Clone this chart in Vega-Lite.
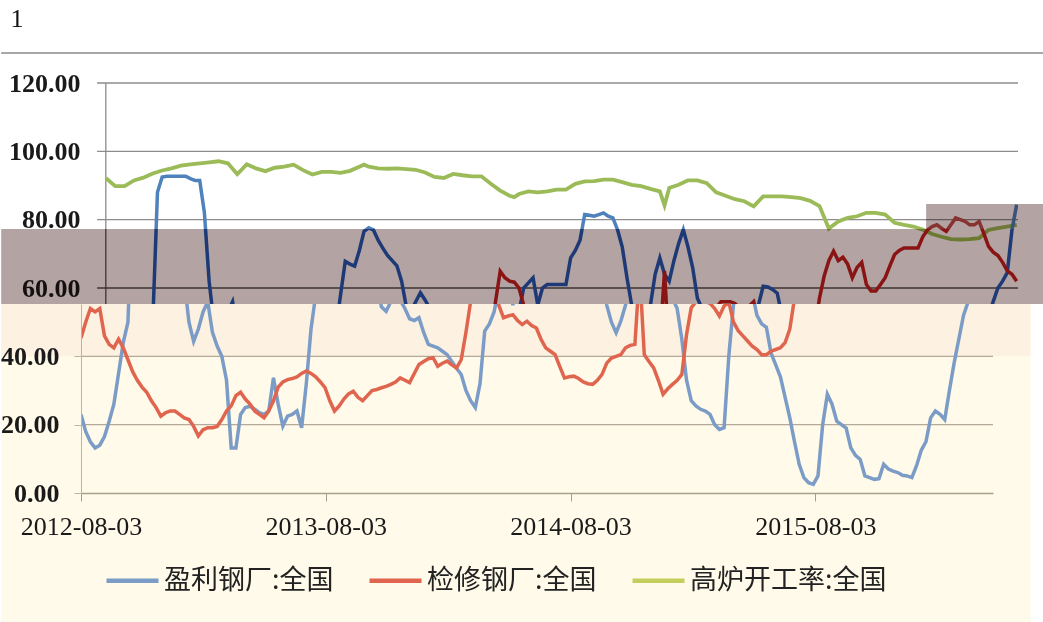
{
"$schema": "https://vega.github.io/schema/vega-lite/v6.json",
"padding": {"top": 6, "left": 0, "right": 0, "bottom": 0},
"background": "white",
"title": {"text": "1", "anchor": "start", "frame": "bounds", "font": "Liberation Serif", "fontSize": 26, "fontWeight": "normal", "color": "#111111", "dx": 10, "offset": 20},
"config": {"view": {"stroke": null}, "font": "Liberation Serif"},
"spacing": 0,
"bounds": "flush",
"resolve": {"scale": {"x": "independent", "y": "independent", "color": "independent"}, "legend": {"color": "independent"}},
"datasets": {
"profit": [{"d":"2012-08-03","v":23},{"d":"2012-08-10","v":18},{"d":"2012-08-17","v":15},{"d":"2012-08-24","v":13.2},{"d":"2012-08-31","v":14},{"d":"2012-09-07","v":16.5},{"d":"2012-09-14","v":21},{"d":"2012-09-21","v":26},{"d":"2012-09-28","v":35},{"d":"2012-10-05","v":44},{"d":"2012-10-12","v":50},{"d":"2012-10-19","v":88},{"d":"2012-10-26","v":92.5},{"d":"2012-11-02","v":92.7},{"d":"2012-11-09","v":92.7},{"d":"2012-11-16","v":92.7},{"d":"2012-11-23","v":92.7},{"d":"2012-11-30","v":92.7},{"d":"2012-12-07","v":92},{"d":"2012-12-14","v":91.5},{"d":"2012-12-21","v":91.5},{"d":"2012-12-28","v":82},{"d":"2013-01-04","v":62},{"d":"2013-01-11","v":50},{"d":"2013-01-18","v":44.4},{"d":"2013-01-25","v":48},{"d":"2013-02-01","v":53},{"d":"2013-02-08","v":56},{"d":"2013-02-15","v":47},{"d":"2013-02-22","v":43},{"d":"2013-03-01","v":40},{"d":"2013-03-08","v":33},{"d":"2013-03-15","v":13.2},{"d":"2013-03-22","v":13.2},{"d":"2013-03-29","v":23},{"d":"2013-04-05","v":25},{"d":"2013-04-12","v":25.4},{"d":"2013-04-19","v":24.5},{"d":"2013-04-26","v":23.5},{"d":"2013-05-03","v":23},{"d":"2013-05-10","v":24},{"d":"2013-05-17","v":33.7},{"d":"2013-05-24","v":26},{"d":"2013-05-31","v":19.6},{"d":"2013-06-07","v":22.5},{"d":"2013-06-14","v":23},{"d":"2013-06-21","v":24},{"d":"2013-06-28","v":19.1},{"d":"2013-07-05","v":32},{"d":"2013-07-12","v":48},{"d":"2013-07-19","v":58},{"d":"2013-07-26","v":67.8},{"d":"2013-08-02","v":67},{"d":"2013-08-09","v":66.4},{"d":"2013-08-16","v":71},{"d":"2013-08-23","v":76.6},{"d":"2013-08-30","v":77.6},{"d":"2013-09-06","v":77},{"d":"2013-09-13","v":74},{"d":"2013-09-20","v":71.7},{"d":"2013-09-27","v":69.5},{"d":"2013-10-04","v":68},{"d":"2013-10-11","v":66.5},{"d":"2013-10-18","v":62},{"d":"2013-10-25","v":54.5},{"d":"2013-11-01","v":53.2},{"d":"2013-11-08","v":56},{"d":"2013-11-15","v":58.6},{"d":"2013-11-22","v":56.5},{"d":"2013-11-29","v":54},{"d":"2013-12-06","v":51},{"d":"2013-12-13","v":50.5},{"d":"2013-12-20","v":51.3},{"d":"2013-12-27","v":47},{"d":"2014-01-03","v":43.5},{"d":"2014-01-10","v":43},{"d":"2014-01-17","v":42.5},{"d":"2014-01-24","v":41.5},{"d":"2014-01-31","v":40.5},{"d":"2014-02-07","v":38.5},{"d":"2014-02-14","v":36.5},{"d":"2014-02-21","v":34.7},{"d":"2014-02-28","v":30},{"d":"2014-03-07","v":27},{"d":"2014-03-14","v":25},{"d":"2014-03-21","v":32},{"d":"2014-03-28","v":47.4},{"d":"2014-04-04","v":49.5},{"d":"2014-04-11","v":53},{"d":"2014-04-18","v":60},{"d":"2014-04-25","v":61.5},{"d":"2014-05-02","v":63},{"d":"2014-05-09","v":55},{"d":"2014-05-16","v":60},{"d":"2014-05-23","v":61},{"d":"2014-05-30","v":61},{"d":"2014-06-06","v":61},{"d":"2014-06-13","v":61},{"d":"2014-06-20","v":61},{"d":"2014-06-27","v":68.8},{"d":"2014-07-04","v":71},{"d":"2014-07-11","v":74},{"d":"2014-07-18","v":81.5},{"d":"2014-07-25","v":81.3},{"d":"2014-08-01","v":81},{"d":"2014-08-08","v":81.5},{"d":"2014-08-15","v":82},{"d":"2014-08-22","v":81},{"d":"2014-08-29","v":80.5},{"d":"2014-09-05","v":77},{"d":"2014-09-12","v":72},{"d":"2014-09-19","v":63},{"d":"2014-09-26","v":55},{"d":"2014-10-03","v":50},{"d":"2014-10-10","v":46.9},{"d":"2014-10-17","v":50.3},{"d":"2014-10-24","v":55},{"d":"2014-10-31","v":64},{"d":"2014-11-07","v":68.8},{"d":"2014-11-14","v":64},{"d":"2014-11-21","v":62},{"d":"2014-11-28","v":68},{"d":"2014-12-05","v":73},{"d":"2014-12-12","v":77.1},{"d":"2014-12-19","v":72},{"d":"2014-12-26","v":65.9},{"d":"2015-01-02","v":57},{"d":"2015-01-09","v":54},{"d":"2015-01-16","v":45},{"d":"2015-01-23","v":33},{"d":"2015-01-30","v":27},{"d":"2015-02-06","v":25.5},{"d":"2015-02-13","v":24.5},{"d":"2015-02-20","v":24},{"d":"2015-02-27","v":23},{"d":"2015-03-06","v":20},{"d":"2015-03-13","v":18.6},{"d":"2015-03-20","v":19.1},{"d":"2015-03-27","v":40},{"d":"2015-04-03","v":55},{"d":"2015-04-10","v":60.5},{"d":"2015-04-17","v":60.3},{"d":"2015-04-24","v":59.6},{"d":"2015-05-01","v":58.5},{"d":"2015-05-08","v":52},{"d":"2015-05-15","v":49.5},{"d":"2015-05-22","v":48.5},{"d":"2015-05-29","v":41},{"d":"2015-06-05","v":37.5},{"d":"2015-06-12","v":34},{"d":"2015-06-19","v":28},{"d":"2015-06-26","v":22},{"d":"2015-07-03","v":15},{"d":"2015-07-10","v":8.4},{"d":"2015-07-17","v":4.5},{"d":"2015-07-24","v":3},{"d":"2015-07-31","v":2.5},{"d":"2015-08-07","v":5},{"d":"2015-08-14","v":20},{"d":"2015-08-21","v":28.9},{"d":"2015-08-28","v":26},{"d":"2015-09-04","v":21},{"d":"2015-09-11","v":20},{"d":"2015-09-18","v":19},{"d":"2015-09-25","v":13.2},{"d":"2015-10-02","v":11},{"d":"2015-10-09","v":9.8},{"d":"2015-10-16","v":5},{"d":"2015-10-23","v":4.5},{"d":"2015-10-30","v":4},{"d":"2015-11-06","v":4.2},{"d":"2015-11-13","v":8.4},{"d":"2015-11-20","v":7},{"d":"2015-11-27","v":6.4},{"d":"2015-12-04","v":6},{"d":"2015-12-11","v":5.2},{"d":"2015-12-18","v":5},{"d":"2015-12-25","v":4.5},{"d":"2016-01-01","v":8},{"d":"2016-01-08","v":12.5},{"d":"2016-01-15","v":15},{"d":"2016-01-22","v":22},{"d":"2016-01-29","v":24},{"d":"2016-02-05","v":23},{"d":"2016-02-12","v":21.5},{"d":"2016-02-19","v":30},{"d":"2016-02-26","v":38},{"d":"2016-03-04","v":45},{"d":"2016-03-11","v":52},{"d":"2016-03-18","v":56},{"d":"2016-03-25","v":60},{"d":"2016-04-01","v":62},{"d":"2016-04-08","v":64.5},{"d":"2016-04-15","v":77},{"d":"2016-04-22","v":84.4}],
"maint": [{"d":"2012-08-03","v":45.4},{"d":"2012-08-10","v":50},{"d":"2012-08-17","v":54},{"d":"2012-08-24","v":53},{"d":"2012-08-31","v":54},{"d":"2012-09-07","v":46},{"d":"2012-09-14","v":43.5},{"d":"2012-09-21","v":42.5},{"d":"2012-09-28","v":45},{"d":"2012-10-05","v":42.5},{"d":"2012-10-12","v":39},{"d":"2012-10-19","v":35.5},{"d":"2012-10-26","v":33},{"d":"2012-11-02","v":31},{"d":"2012-11-09","v":29.5},{"d":"2012-11-16","v":27},{"d":"2012-11-23","v":25},{"d":"2012-11-30","v":22.5},{"d":"2012-12-07","v":23.5},{"d":"2012-12-14","v":24},{"d":"2012-12-21","v":24},{"d":"2012-12-28","v":23},{"d":"2013-01-04","v":22},{"d":"2013-01-11","v":21.5},{"d":"2013-01-18","v":19.5},{"d":"2013-01-25","v":16.7},{"d":"2013-02-01","v":18.5},{"d":"2013-02-08","v":19.1},{"d":"2013-02-15","v":19.1},{"d":"2013-02-22","v":19.5},{"d":"2013-03-01","v":21.5},{"d":"2013-03-08","v":24},{"d":"2013-03-15","v":25.5},{"d":"2013-03-22","v":28.5},{"d":"2013-03-29","v":29.5},{"d":"2013-04-05","v":27.5},{"d":"2013-04-12","v":26},{"d":"2013-04-19","v":24},{"d":"2013-04-26","v":23},{"d":"2013-05-03","v":22},{"d":"2013-05-10","v":24},{"d":"2013-05-17","v":27},{"d":"2013-05-24","v":31},{"d":"2013-05-31","v":32.5},{"d":"2013-06-07","v":33.2},{"d":"2013-06-14","v":33.5},{"d":"2013-06-21","v":34},{"d":"2013-06-28","v":35},{"d":"2013-07-05","v":35.7},{"d":"2013-07-12","v":35},{"d":"2013-07-19","v":34},{"d":"2013-07-26","v":32.5},{"d":"2013-08-02","v":30.8},{"d":"2013-08-09","v":27},{"d":"2013-08-16","v":24},{"d":"2013-08-23","v":25.5},{"d":"2013-08-30","v":27.5},{"d":"2013-09-06","v":29},{"d":"2013-09-13","v":29.8},{"d":"2013-09-20","v":28},{"d":"2013-09-27","v":27},{"d":"2013-10-04","v":28.5},{"d":"2013-10-11","v":30},{"d":"2013-10-18","v":30.3},{"d":"2013-10-25","v":30.8},{"d":"2013-11-01","v":31.2},{"d":"2013-11-08","v":31.8},{"d":"2013-11-15","v":32.5},{"d":"2013-11-22","v":33.7},{"d":"2013-11-29","v":33},{"d":"2013-12-06","v":32.3},{"d":"2013-12-13","v":35},{"d":"2013-12-20","v":37.6},{"d":"2013-12-27","v":38.5},{"d":"2014-01-03","v":39.3},{"d":"2014-01-10","v":39.6},{"d":"2014-01-17","v":37.1},{"d":"2014-01-24","v":38},{"d":"2014-01-31","v":38.6},{"d":"2014-02-07","v":37.5},{"d":"2014-02-14","v":36.6},{"d":"2014-02-21","v":39},{"d":"2014-02-28","v":47},{"d":"2014-03-07","v":56},{"d":"2014-03-14","v":64.9},{"d":"2014-03-21","v":63},{"d":"2014-03-28","v":62},{"d":"2014-04-04","v":61.7},{"d":"2014-04-11","v":60},{"d":"2014-04-18","v":55},{"d":"2014-04-25","v":51.3},{"d":"2014-05-02","v":51.8},{"d":"2014-05-09","v":52.2},{"d":"2014-05-16","v":50.5},{"d":"2014-05-23","v":49.3},{"d":"2014-05-30","v":50.3},{"d":"2014-06-06","v":49},{"d":"2014-06-13","v":48.3},{"d":"2014-06-20","v":45},{"d":"2014-06-27","v":42.5},{"d":"2014-07-04","v":41.5},{"d":"2014-07-11","v":40.5},{"d":"2014-07-18","v":37},{"d":"2014-07-25","v":33.7},{"d":"2014-08-01","v":34},{"d":"2014-08-08","v":34.2},{"d":"2014-08-15","v":33.5},{"d":"2014-08-22","v":32.5},{"d":"2014-08-29","v":32},{"d":"2014-09-05","v":31.8},{"d":"2014-09-12","v":33},{"d":"2014-09-19","v":34.7},{"d":"2014-09-26","v":38},{"d":"2014-10-03","v":39.5},{"d":"2014-10-10","v":40},{"d":"2014-10-17","v":40.5},{"d":"2014-10-24","v":42.5},{"d":"2014-10-31","v":43.2},{"d":"2014-11-07","v":43.5},{"d":"2014-11-14","v":65},{"d":"2014-11-21","v":40.5},{"d":"2014-11-28","v":38.5},{"d":"2014-12-05","v":36.6},{"d":"2014-12-12","v":33},{"d":"2014-12-19","v":28.9},{"d":"2014-12-26","v":30.5},{"d":"2015-01-02","v":31.8},{"d":"2015-01-09","v":33},{"d":"2015-01-16","v":34.7},{"d":"2015-01-23","v":46.4},{"d":"2015-01-30","v":54.2},{"d":"2015-02-06","v":56},{"d":"2015-02-13","v":56},{"d":"2015-02-20","v":56},{"d":"2015-02-27","v":55.5},{"d":"2015-03-06","v":54},{"d":"2015-03-13","v":51.8},{"d":"2015-03-20","v":54.7},{"d":"2015-03-27","v":56},{"d":"2015-04-03","v":50},{"d":"2015-04-10","v":47.5},{"d":"2015-04-17","v":46},{"d":"2015-04-24","v":44.5},{"d":"2015-05-01","v":43},{"d":"2015-05-08","v":42},{"d":"2015-05-15","v":40.5},{"d":"2015-05-22","v":40.5},{"d":"2015-05-29","v":41.5},{"d":"2015-06-05","v":42},{"d":"2015-06-12","v":42.5},{"d":"2015-06-19","v":44},{"d":"2015-06-26","v":48},{"d":"2015-07-03","v":57},{"d":"2015-07-10","v":63.5},{"d":"2015-07-17","v":68},{"d":"2015-07-24","v":70.8},{"d":"2015-07-31","v":68},{"d":"2015-08-07","v":69},{"d":"2015-08-14","v":67},{"d":"2015-08-21","v":63},{"d":"2015-08-28","v":66},{"d":"2015-09-04","v":67.5},{"d":"2015-09-11","v":61},{"d":"2015-09-18","v":59.1},{"d":"2015-09-25","v":59.1},{"d":"2015-10-02","v":61},{"d":"2015-10-09","v":63},{"d":"2015-10-16","v":66.5},{"d":"2015-10-23","v":69.8},{"d":"2015-10-30","v":71},{"d":"2015-11-06","v":71.7},{"d":"2015-11-13","v":71.7},{"d":"2015-11-20","v":71.7},{"d":"2015-11-27","v":71.7},{"d":"2015-12-04","v":75},{"d":"2015-12-11","v":77},{"d":"2015-12-18","v":78},{"d":"2015-12-25","v":78.5},{"d":"2016-01-01","v":77.5},{"d":"2016-01-08","v":76.6},{"d":"2016-01-15","v":78.5},{"d":"2016-01-22","v":80.5},{"d":"2016-01-29","v":80},{"d":"2016-02-05","v":79.5},{"d":"2016-02-12","v":78.5},{"d":"2016-02-19","v":78.5},{"d":"2016-02-26","v":79.5},{"d":"2016-03-04","v":76},{"d":"2016-03-11","v":72.2},{"d":"2016-03-18","v":70.5},{"d":"2016-03-25","v":69.5},{"d":"2016-04-01","v":67.5},{"d":"2016-04-08","v":65},{"d":"2016-04-15","v":64},{"d":"2016-04-22","v":62}],
"bf": [{"d":"2012-08-03","v":92.2},{"d":"2012-08-17","v":89.8},{"d":"2012-08-31","v":89.8},{"d":"2012-09-14","v":91.5},{"d":"2012-09-28","v":92.3},{"d":"2012-10-12","v":93.5},{"d":"2012-10-26","v":94.4},{"d":"2012-11-09","v":95},{"d":"2012-11-23","v":95.8},{"d":"2012-12-07","v":96.2},{"d":"2012-12-21","v":96.5},{"d":"2013-01-04","v":96.8},{"d":"2013-01-18","v":97.1},{"d":"2013-02-01","v":96.5},{"d":"2013-02-15","v":93.3},{"d":"2013-03-01","v":96.2},{"d":"2013-03-15","v":95},{"d":"2013-03-29","v":94.2},{"d":"2013-04-12","v":95.2},{"d":"2013-04-26","v":95.5},{"d":"2013-05-10","v":96.1},{"d":"2013-05-24","v":94.5},{"d":"2013-06-07","v":93.2},{"d":"2013-06-21","v":94},{"d":"2013-07-05","v":94},{"d":"2013-07-19","v":93.7},{"d":"2013-08-02","v":94.3},{"d":"2013-08-16","v":95.5},{"d":"2013-08-23","v":96.1},{"d":"2013-08-30","v":95.5},{"d":"2013-09-13","v":95},{"d":"2013-09-27","v":94.9},{"d":"2013-10-11","v":95},{"d":"2013-10-25","v":94.8},{"d":"2013-11-08","v":94.6},{"d":"2013-11-22","v":93.8},{"d":"2013-12-06","v":92.5},{"d":"2013-12-20","v":92.2},{"d":"2014-01-03","v":93.4},{"d":"2014-01-17","v":93},{"d":"2014-01-31","v":92.7},{"d":"2014-02-14","v":92.7},{"d":"2014-02-28","v":90.5},{"d":"2014-03-14","v":88.5},{"d":"2014-03-28","v":87},{"d":"2014-04-04","v":86.6},{"d":"2014-04-11","v":87.5},{"d":"2014-04-25","v":88.3},{"d":"2014-05-09","v":88},{"d":"2014-05-23","v":88.3},{"d":"2014-06-06","v":88.8},{"d":"2014-06-20","v":88.8},{"d":"2014-07-04","v":90.5},{"d":"2014-07-18","v":91.2},{"d":"2014-08-01","v":91.3},{"d":"2014-08-15","v":91.7},{"d":"2014-08-29","v":91.7},{"d":"2014-09-12","v":91},{"d":"2014-09-26","v":90.2},{"d":"2014-10-10","v":89.8},{"d":"2014-10-24","v":89},{"d":"2014-11-07","v":88.3},{"d":"2014-11-14","v":84.2},{"d":"2014-11-21","v":89.3},{"d":"2014-12-05","v":90.2},{"d":"2014-12-19","v":91.5},{"d":"2015-01-02","v":91.5},{"d":"2015-01-16","v":90.7},{"d":"2015-01-30","v":88},{"d":"2015-02-13","v":87},{"d":"2015-02-27","v":86},{"d":"2015-03-13","v":85.4},{"d":"2015-03-27","v":83.9},{"d":"2015-04-10","v":86.8},{"d":"2015-04-24","v":86.8},{"d":"2015-05-08","v":86.8},{"d":"2015-05-22","v":86.6},{"d":"2015-06-05","v":86.3},{"d":"2015-06-19","v":85.5},{"d":"2015-07-03","v":84},{"d":"2015-07-17","v":77.4},{"d":"2015-07-31","v":79.5},{"d":"2015-08-14","v":80.5},{"d":"2015-08-28","v":81},{"d":"2015-09-11","v":82},{"d":"2015-09-25","v":82},{"d":"2015-10-09","v":81.5},{"d":"2015-10-23","v":79.1},{"d":"2015-11-06","v":78.5},{"d":"2015-11-20","v":78},{"d":"2015-12-04","v":77.1},{"d":"2015-12-18","v":75.8},{"d":"2016-01-01","v":75},{"d":"2016-01-15","v":74.3},{"d":"2016-01-29","v":74.2},{"d":"2016-02-12","v":74.3},{"d":"2016-02-26","v":74.6},{"d":"2016-03-11","v":77},{"d":"2016-03-25","v":77.5},{"d":"2016-04-08","v":78},{"d":"2016-04-22","v":78.5}]
},
"vconcat": [
{
"width": 937, "height": 146,
"layer": [
{"data": {"values": [{"v": 80}, {"v": 100}, {"v": 120}]},
 "mark": {"type": "rule", "color": "#8c8c8c", "strokeWidth": 1.3},
 "encoding": {
  "y": {"field": "v", "type": "quantitative", "scale": {"domain": [77.27, 120], "nice": false, "zero": false},
        "axis": {"values": [80, 100, 120], "format": ".2f", "title": null, "domain": false, "ticks": false, "grid": false, "labelPadding": 1, "labelFont": "Liberation Serif", "labelFontSize": 26, "labelFontWeight": "bold", "labelColor": "#1a1a1a", "zindex": 1}},
  "x": {"datum": {"year": 2012, "month": 7, "date": 21, "utc": true}, "type": "temporal",
        "scale": {"type": "utc", "domain": [{"year": 2012, "month": 6, "date": 27, "utc": true}, {"year": 2016, "month": 4, "date": 24, "utc": true}], "nice": false}, "axis": null},
  "x2": {"datum": {"year": 2016, "month": 4, "date": 24, "utc": true}}
 }},
{"data": {"values": [{}]},
 "mark": {"type": "rule", "color": "#8a8a8a", "strokeWidth": 1.5, "clip": false},
 "encoding": {"x": {"datum": {"year": 2012, "month": 2, "date": 29, "utc": true}, "type": "temporal"}, "x2": {"datum": {"year": 2016, "month": 6, "date": 1, "utc": true}}, "y": {"datum": 128.78, "type": "quantitative"}}},
{"data": {"values": [{}]},
 "mark": {"type": "rule", "color": "#8c8c8c", "strokeWidth": 1.3},
 "encoding": {"x": {"datum": {"year": 2012, "month": 8, "date": 3, "utc": true}, "type": "temporal"}}},
{"data": {"name": "bf"}, "mark": {"type": "line", "color": "#9bbb59", "strokeWidth": 3.8, "clip": true},
 "encoding": {"x": {"field": "d", "type": "temporal"}, "y": {"field": "v", "type": "quantitative"}}},
{"data": {"name": "profit"}, "mark": {"type": "line", "color": "#4f81bd", "strokeWidth": 3.5, "clip": true},
 "encoding": {"x": {"field": "d", "type": "temporal"}, "y": {"field": "v", "type": "quantitative"}}},
{"data": {"name": "maint"}, "mark": {"type": "line", "color": "#c0504d", "strokeWidth": 3.5, "clip": true},
 "encoding": {"x": {"field": "d", "type": "temporal"}, "y": {"field": "v", "type": "quantitative"}}},
{"data": {"values": [{}]},
 "mark": {"type": "rect", "color": "#b3a3a3", "blend": "multiply", "clip": false},
 "encoding": {"x": {"datum": {"year": 2015, "month": 12, "date": 9, "utc": true}, "type": "temporal"}, "x2": {"datum": {"year": 2016, "month": 6, "date": 1, "utc": true}}, "y": {"datum": 84.59, "type": "quantitative"}, "y2": {"datum": 77.27}}}
]
},
{
"width": 937, "height": 75,
"layer": [
{"data": {"values": [{}]},
 "mark": {"type": "rect", "color": "#b3a3a3", "clip": false},
 "encoding": {"x": {"datum": {"year": 2012, "month": 2, "date": 29, "utc": true}, "type": "temporal",
        "scale": {"type": "utc", "domain": [{"year": 2012, "month": 6, "date": 27, "utc": true}, {"year": 2016, "month": 4, "date": 24, "utc": true}], "nice": false}, "axis": null},
  "x2": {"datum": {"year": 2016, "month": 6, "date": 1, "utc": true}},
  "y": {"datum": 77.27, "type": "quantitative", "scale": {"domain": [55.32, 77.27], "nice": false, "zero": false},
        "axis": {"values": [60], "format": ".2f", "title": null, "domain": false, "ticks": false, "grid": false, "labelPadding": 1, "labelFont": "Liberation Serif", "labelFontSize": 26, "labelFontWeight": "bold", "labelColor": "#141010", "zindex": 1}},
  "y2": {"datum": 55.32}}},
{"data": {"values": [{"v": 60}]},
 "mark": {"type": "rule", "color": "#3d3434", "strokeWidth": 1.3},
 "encoding": {"y": {"field": "v", "type": "quantitative"},
  "x": {"datum": {"year": 2012, "month": 7, "date": 21, "utc": true}, "type": "temporal"},
  "x2": {"datum": {"year": 2016, "month": 4, "date": 24, "utc": true}}}},
{"data": {"values": [{}]},
 "mark": {"type": "rule", "color": "#3d3434", "strokeWidth": 1.3},
 "encoding": {"x": {"datum": {"year": 2012, "month": 8, "date": 3, "utc": true}, "type": "temporal"}}},
{"data": {"name": "bf"}, "mark": {"type": "line", "color": "#6b7a30", "strokeWidth": 3.8, "clip": true},
 "encoding": {"x": {"field": "d", "type": "temporal"}, "y": {"field": "v", "type": "quantitative"}}},
{"data": {"name": "profit"}, "mark": {"type": "line", "color": "#1d3a76", "strokeWidth": 3.5, "clip": true},
 "encoding": {"x": {"field": "d", "type": "temporal"}, "y": {"field": "v", "type": "quantitative"}}},
{"data": {"name": "maint"}, "mark": {"type": "line", "color": "#8a1414", "strokeWidth": 3.5, "clip": true},
 "encoding": {"x": {"field": "d", "type": "temporal"}, "y": {"field": "v", "type": "quantitative"}}}
]
},
{
"width": 912, "height": 189,
"layer": [
{"data": {"values": [{}]},
 "mark": {"type": "rect", "color": "#fffae9", "clip": false},
 "encoding": {"x": {"datum": {"year": 2012, "month": 4, "date": 6, "utc": true}, "type": "temporal",
        "scale": {"type": "utc", "domain": [{"year": 2012, "month": 8, "date": 3, "utc": true}, {"year": 2016, "month": 4, "date": 24, "utc": true}], "nice": false},
        "axis": {"values": [{"year": 2012, "month": 8, "date": 3, "utc": true}, {"year": 2013, "month": 8, "date": 3, "utc": true}, {"year": 2014, "month": 8, "date": 3, "utc": true}, {"year": 2015, "month": 8, "date": 3, "utc": true}],
                 "labelExpr": "utcFormat(datum.value, '%Y-%m-%d')", "title": null, "grid": false, "domainColor": "#a89e8e", "domainWidth": 1.3, "tickColor": "#a89e8e", "tickSize": 8, "labelPadding": 12, "labelFont": "Liberation Serif", "labelFontSize": 26, "labelColor": "#1a1a1a", "labelFlush": false, "zindex": 1}},
  "x2": {"datum": {"year": 2016, "month": 6, "date": 19, "utc": true}},
  "y": {"datum": 55.32, "type": "quantitative", "scale": {"domain": [0, 55.32], "nice": false, "zero": false},
        "axis": {"values": [0, 20, 40], "format": ".2f", "title": null, "grid": false, "domainColor": "#bdb3a3", "tickColor": "#bdb3a3", "tickSize": 7, "labelPadding": 15, "labelFont": "Liberation Serif", "labelFontSize": 26, "labelFontWeight": "bold", "labelColor": "#1a1a1a", "zindex": 1}},
  "y2": {"datum": -38.05}}},
{"data": {"values": [{}]},
 "mark": {"type": "rect", "color": "#fdf2e2", "clip": false},
 "encoding": {"x": {"datum": {"year": 2012, "month": 4, "date": 6, "utc": true}, "type": "temporal"},
  "x2": {"datum": {"year": 2016, "month": 6, "date": 19, "utc": true}},
  "y": {"datum": 55.32, "type": "quantitative"}, "y2": {"datum": 40}}},
{"data": {"values": [{"v": 20}, {"v": 40}]},
 "mark": {"type": "rule", "color": "#b5a999", "strokeWidth": 1.3},
 "encoding": {"y": {"field": "v", "type": "quantitative"}}},
{"data": {"name": "profit"}, "mark": {"type": "line", "strokeWidth": 3.5, "clip": true},
 "encoding": {"x": {"field": "d", "type": "temporal"}, "y": {"field": "v", "type": "quantitative"},
  "color": {"datum": "盈利钢厂:全国", "type": "nominal",
   "scale": {"domain": ["盈利钢厂:全国", "检修钢厂:全国", "高炉开工率:全国"], "range": ["#7b9cc7", "#e0654e", "#c3cf5c"]},
   "legend": {"orient": "none", "legendX": 23, "legendY": 248, "direction": "horizontal", "columns": 3, "title": null, "symbolType": "stroke", "symbolSize": 2704, "symbolStrokeWidth": 4.5, "labelFont": "Noto Sans CJK SC", "labelFontSize": 27, "labelColor": "#222222", "labelOffset": 3, "columnPadding": 26, "labelLimit": 400}}}},
{"data": {"name": "maint"}, "mark": {"type": "line", "strokeWidth": 3.5, "clip": true},
 "encoding": {"x": {"field": "d", "type": "temporal"}, "y": {"field": "v", "type": "quantitative"},
  "color": {"datum": "检修钢厂:全国", "type": "nominal"}}},
{"data": {"name": "bf"}, "mark": {"type": "line", "strokeWidth": 3.5, "clip": true},
 "encoding": {"x": {"field": "d", "type": "temporal"}, "y": {"field": "v", "type": "quantitative"},
  "color": {"datum": "高炉开工率:全国", "type": "nominal"}}}
]
}
]
}
